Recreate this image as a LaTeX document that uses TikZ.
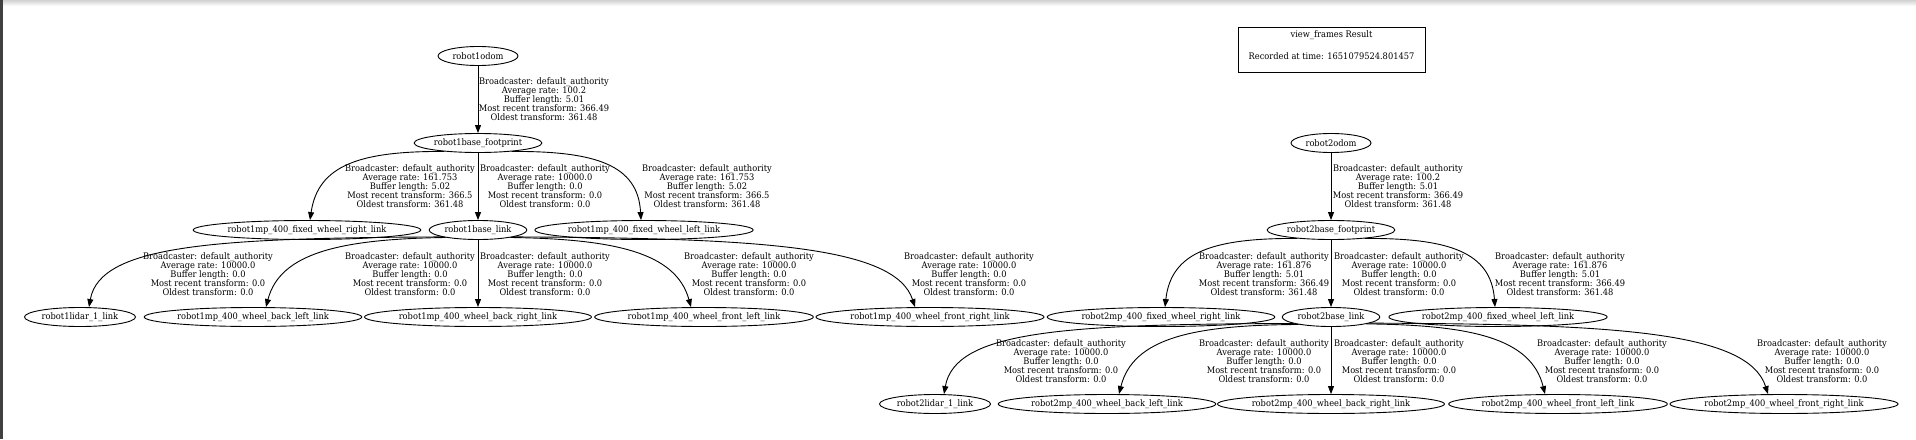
\documentclass[tikz,border=0pt]{standalone}
\usepackage{fontspec}
\setmainfont{DejaVu Serif}[FakeStretch=0.92]
\usetikzlibrary{shapes.geometric,arrows.meta}

\newcommand{\tfinfo}[4]{Broadcaster: default\_authority\\Average rate: #1\\Buffer length: #2\\Most recent transform: #3\\Oldest transform: #4}

\tikzset{
  frame/.style={ellipse, draw, line width=0.9pt, inner xsep=1pt, inner ysep=0pt,
    minimum width=80pt, minimum height=19pt, font=\fontsize{9}{9}\selectfont},
  info/.style={align=center, inner sep=0pt, font=\fontsize{9}{9}\selectfont},
  tf/.style={line width=0.9pt, -{Triangle[length=8pt,width=6pt]}}
}

\begin{document}
\begin{tikzpicture}[x=1pt,y=-1pt]
\useasboundingbox (0,0) rectangle (1916,439);
\fill[black!75] (0,0) rectangle (3,439);
\shade[top color=black!18, bottom color=white] (3,0) rectangle (1916,6);

\node[draw, line width=1pt, minimum width=187pt, minimum height=45pt] (legend) at (1331.5,49.5) {};
\node[info] (legendtxt) at (1331.5,45) {view\_frames Result\\[13pt]Recorded at time: 1651079524.801457};

% robot1
\node[frame] (r1odom) at (478,56) {robot1odom};
\node[frame] (r1foot) at (478,143) {robot1base\_footprint};
\node[frame] (r1fwr) at (307,230) {robot1mp\_400\_fixed\_wheel\_right\_link};
\node[frame] (r1base) at (478,230) {robot1base\_link};
\node[frame] (r1fwl) at (644,230) {robot1mp\_400\_fixed\_wheel\_left\_link};
\node[frame] (r1lidar) at (80,317) {robot1lidar\_1\_link};
\node[frame] (r1wbl) at (253,317) {robot1mp\_400\_wheel\_back\_left\_link};
\node[frame] (r1wbr) at (478,317) {robot1mp\_400\_wheel\_back\_right\_link};
\node[frame] (r1wfl) at (704,317) {robot1mp\_400\_wheel\_front\_left\_link};
\node[frame] (r1wfr) at (930,317) {robot1mp\_400\_wheel\_front\_right\_link};

\node[info] (i1odom) at (544,99) {\tfinfo{100.2}{5.01}{366.49}{361.48}};
\node[info] (i1fwr) at (410,186) {\tfinfo{161.753}{5.02}{366.5}{361.48}};
\node[info] (i1base) at (545,186) {\tfinfo{10000.0}{0.0}{0.0}{0.0}};
\node[info] (i1fwl) at (707,186) {\tfinfo{161.753}{5.02}{366.5}{361.48}};
\foreach \n/\x in {i1lidar/208, i1wbl/410, i1wbr/545, i1wfl/749, i1wfr/969}
  \node[info] (\n) at (\x,274) {\tfinfo{10000.0}{0.0}{0.0}{0.0}};

\draw[tf] (r1odom) -- (r1foot);
\draw[tf] (r1foot) -- (r1base);
\draw[tf] (r1foot.194) .. controls (360,151) and (318,165) .. ([xshift=3pt]r1fwr.north);
\draw[tf] (r1foot.346) .. controls (596,151) and (638,165) .. ([xshift=-3pt]r1fwl.north);
\draw[tf] (r1base.191) .. controls (220,238) and (100,244) .. ([xshift=9pt]r1lidar.north);
\draw[tf] (r1base.193) .. controls (340,239) and (280,253) .. ([xshift=13pt]r1wbl.north);
\draw[tf] (r1base) -- (r1wbr);
\draw[tf] (r1base.347) .. controls (616,239) and (676,253) .. ([xshift=-13pt]r1wfl.north);
\draw[tf] (r1base.349) .. controls (760,238) and (895,246) .. ([xshift=-15pt]r1wfr.north);

% robot2
\node[frame] (r2odom) at (1331,143) {robot2odom};
\node[frame] (r2foot) at (1331,230) {robot2base\_footprint};
\node[frame] (r2fwr) at (1161,317) {robot2mp\_400\_fixed\_wheel\_right\_link};
\node[frame] (r2base) at (1331,317) {robot2base\_link};
\node[frame] (r2fwl) at (1498,317) {robot2mp\_400\_fixed\_wheel\_left\_link};
\node[frame] (r2lidar) at (935,404) {robot2lidar\_1\_link};
\node[frame] (r2wbl) at (1107,404) {robot2mp\_400\_wheel\_back\_left\_link};
\node[frame] (r2wbr) at (1331,404) {robot2mp\_400\_wheel\_back\_right\_link};
\node[frame] (r2wfl) at (1558,404) {robot2mp\_400\_wheel\_front\_left\_link};
\node[frame] (r2wfr) at (1784,404) {robot2mp\_400\_wheel\_front\_right\_link};

\node[info] (i2odom) at (1398,186) {\tfinfo{100.2}{5.01}{366.49}{361.48}};
\node[info] (i2fwr) at (1264,274) {\tfinfo{161.876}{5.01}{366.49}{361.48}};
\node[info] (i2base) at (1399,274) {\tfinfo{10000.0}{0.0}{0.0}{0.0}};
\node[info] (i2fwl) at (1560,274) {\tfinfo{161.876}{5.01}{366.49}{361.48}};
\foreach \n/\x in {i2lidar/1061, i2wbl/1264, i2wbr/1399, i2wfl/1602, i2wfr/1822}
  \node[info] (\n) at (\x,361) {\tfinfo{10000.0}{0.0}{0.0}{0.0}};

\draw[tf] (r2odom) -- (r2foot);
\draw[tf] (r2foot) -- (r2base);
\draw[tf] (r2foot.194) .. controls (1213,238) and (1171,252) .. ([xshift=4pt]r2fwr.north);
\draw[tf] (r2foot.346) .. controls (1449,238) and (1491,252) .. ([xshift=-3pt]r2fwl.north);
\draw[tf] (r2base.190) .. controls (1063,324) and (955,331) .. ([xshift=9pt]r2lidar.north);
\draw[tf] (r2base.193) .. controls (1193,325) and (1133,338) .. ([xshift=12pt]r2wbl.north);
\draw[tf] (r2base) -- (r2wbr);
\draw[tf] (r2base.349) .. controls (1471,325) and (1531,338) .. ([xshift=-13pt]r2wfl.north);
\draw[tf] (r2base.351) .. controls (1613,324) and (1748,331) .. ([xshift=-16pt]r2wfr.north);
\end{tikzpicture}
\end{document}
